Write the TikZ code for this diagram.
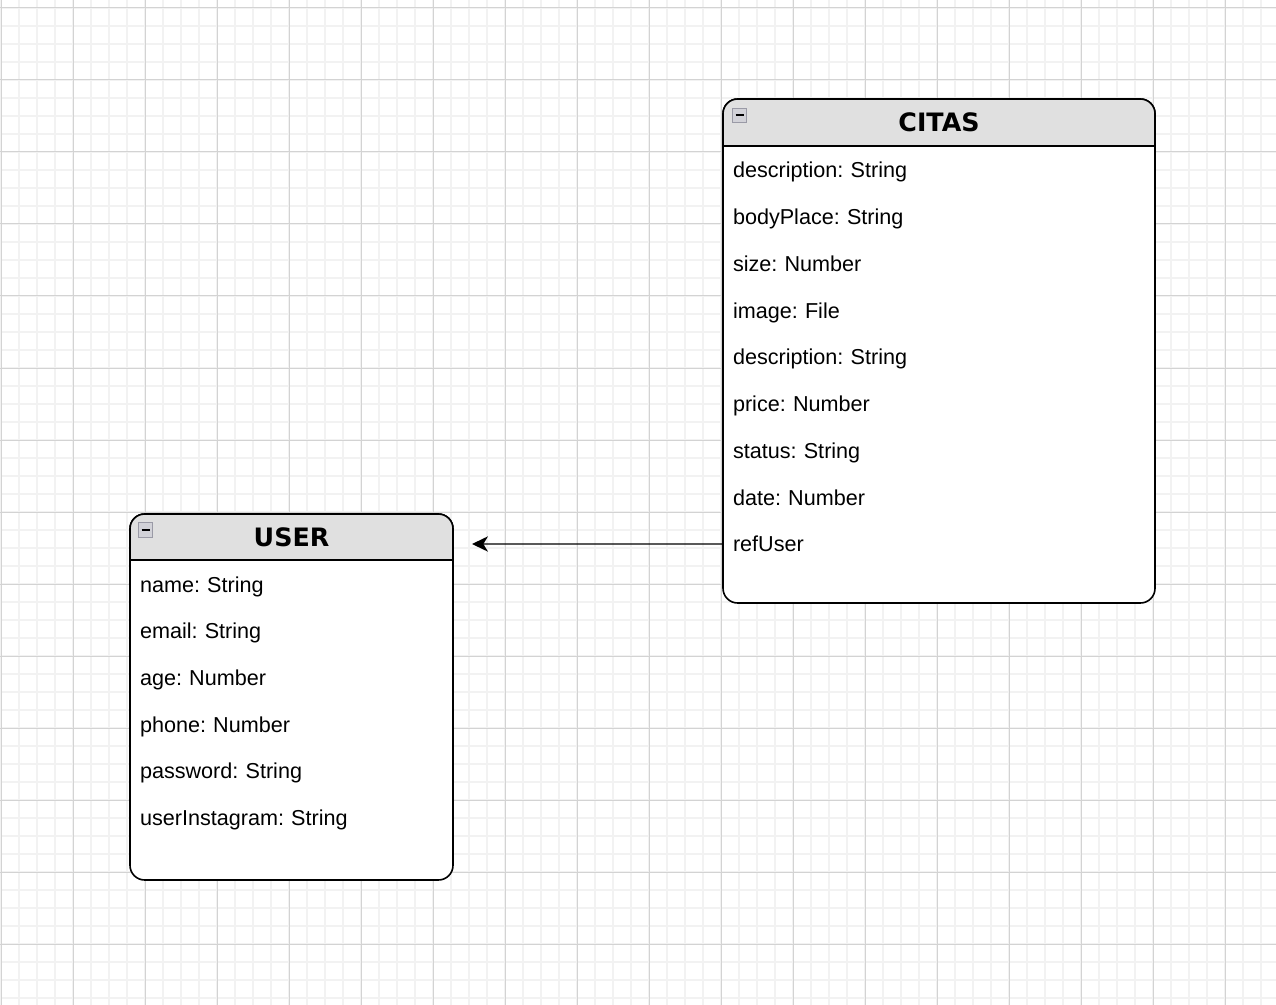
\documentclass[tikz,border=0pt]{standalone}
\usepackage{fontspec}
\setmainfont{Liberation Sans}
\newfontfamily\headfont{DejaVu Sans}
\usetikzlibrary{positioning}
\usetikzlibrary{arrows.meta}
\definecolor{gridminor}{HTML}{F2F2F2}
\definecolor{gridmajor}{HTML}{D3D3D3}
\definecolor{headgray}{HTML}{E0E0E0}
\definecolor{togglegray}{HTML}{D2D2D8}
\definecolor{togglerim}{HTML}{9A9AA6}
\frenchspacing

\begin{document}
\begin{tikzpicture}[
            x=0.75pt, y=-0.75pt,
            >={Stealth[length=12pt, width=11.5pt, inset=3.5pt]},
            minorline/.style={gridminor, line width=1.2pt},
            majorline/.style={gridmajor, line width=0.75pt},
            tablebox/.style={draw, fill=white, line width=1.2pt, rounded corners=11pt, outer sep=0pt, inner sep=0pt},
            headbar/.style={fill=headgray, draw, line width=1.2pt, rounded corners=11pt},
            title/.style={font=\headfont\bfseries\fontsize{19}{21}\selectfont, inner sep=0pt},
            field/.style={font=\fontsize{16.2}{19}\selectfont, text width=#1, align=left, inner xsep=7.5pt, inner ysep=0pt, outer sep=0pt, minimum height=35.06pt, text height=13pt, text depth=1pt},
            toggle/.style={draw=togglerim, fill=togglegray, line width=0.7pt, minimum size=11pt, inner sep=0pt,
                path picture={\draw[black, line width=1.5pt] ([xshift=-3pt]path picture bounding box.center) -- ([xshift=3pt]path picture bounding box.center);}},
            arrowline/.style={line width=1pt}
        ]
            \useasboundingbox (0,0) rectangle (1276,1005);

            % Grid
            \foreach \gx in {1,19,...,1276} \draw[minorline] (\gx,0) -- (\gx,1005);
            \foreach \gy in {8,26,...,1005} \draw[minorline] (0,\gy) -- (1276,\gy);
            \foreach \gx in {1,73,...,1276} \draw[majorline] (\gx,0) -- (\gx,1005);
            \foreach \gy in {8,80,...,1005} \draw[majorline] (0,\gy) -- (1276,\gy);

            % Citas
            \node[tablebox, minimum width=324pt, minimum height=378pt] (citas) at (939,351) {};
            \begin{scope}
                \clip ([shift={(-5,-5)}]citas.north west) rectangle ([xshift=5]citas.east |- 0,146);
                \path[headbar] (citas.north west) rectangle (citas.south east);
            \end{scope}
            \draw[line width=1.2pt] (citas.west |- 0,146) -- (citas.east |- 0,146);
            \node[toggle] (citastoggle) at (739.5,115.5) {};
            \node[title] (citastitle) at (939,122) {CITAS};
            \node[field=309pt] (citasdesc) at (939,170) {description: String};
            \node[field=309pt, below=0pt of citasdesc] (bodyplace) {bodyPlace: String};
            \node[field=309pt, below=0pt of bodyplace] (size) {size: Number};
            \node[field=309pt, below=0pt of size] (image) {image: File};
            \node[field=309pt, below=0pt of image] (citasdesctwo) {description: String};
            \node[field=309pt, below=0pt of citasdesctwo] (price) {price: Number};
            \node[field=309pt, below=0pt of price] (status) {status: String};
            \node[field=309pt, below=0pt of status] (date) {date: Number};
            \node[field=309pt, below=0pt of date] (refuser) {refUser};

            % User
            \node[tablebox, minimum width=242.25pt, minimum height=274.5pt] (user) at (291.5,697) {};
            \begin{scope}
                \clip ([shift={(-5,-5)}]user.north west) rectangle ([xshift=5]user.east |- 0,560);
                \path[headbar] (user.north west) rectangle (user.south east);
            \end{scope}
            \draw[line width=1.2pt] (user.west |- 0,560) -- (user.east |- 0,560);
            \node[toggle] (usertoggle) at (145.5,530) {};
            \node[title] (usertitle) at (291.5,537) {USER};
            \node[field=227.25pt] (username) at (291.5,584) {name: String};
            \node[field=227.25pt, below=0pt of username] (email) {email: String};
            \node[field=227.25pt, below=0pt of email] (age) {age: Number};
            \node[field=227.25pt, below=0pt of age] (phone) {phone: Number};
            \node[field=227.25pt, below=0pt of phone] (password) {password: String};
            \node[field=227.25pt, below=0pt of password] (userinsta) {userInstagram: String};

            % Reference
            \coordinate (usertip) at (472,544);
            \draw[arrowline, ->] (refuser.west) -- (usertip);
        \end{tikzpicture}
\end{document}
